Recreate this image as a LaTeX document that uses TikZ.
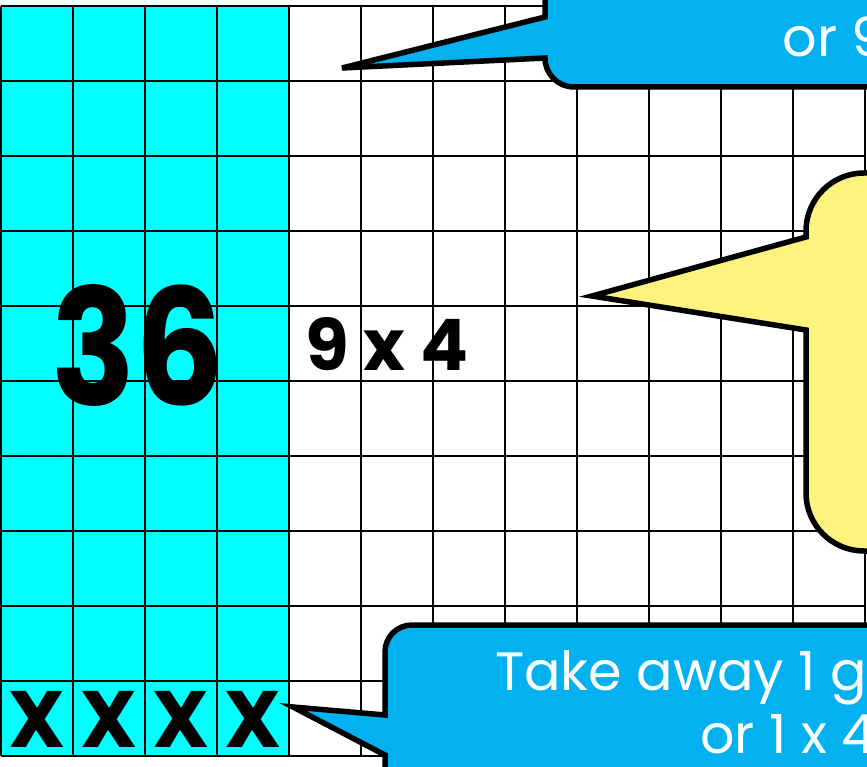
\documentclass[tikz,border=0pt]{standalone}
\usepackage{fontspec}
\setmainfont{Poppins}
\definecolor{gridcyan}{RGB}{0,255,255}
\definecolor{callblue}{RGB}{3,176,240}
\definecolor{callyellow}{RGB}{255,243,128}
\tikzset{
  gridline/.style={line width=2.2pt, black},
  callout/.style={line width=5.5pt, black, line join=miter},
  bigtxt/.style={inner sep=0pt, font=\fontsize{162}{162}\selectfont\bfseries},
  midtxt/.style={inner sep=0pt, font=\fontsize{71}{71}\selectfont\bfseries},
  xtxt/.style={inner sep=0pt, font=\fontsize{80}{80}\selectfont\bfseries},
  calltxt/.style={inner sep=0pt, text=white, font=\fontsize{54}{54}\selectfont}
}
\begin{document}
\begin{tikzpicture}[x=1pt,y=-1pt]
\useasboundingbox (0,0) rectangle (867,767);
\clip (0,0) rectangle (867,767);
\fill[white] (0,0) rectangle (867,767);
% cyan columns
\fill[gridcyan] (1,6) rectangle (289,756);
% grid
\foreach \i in {0,...,12} {
  \draw[gridline] (1+72*\i,6) -- (1+72*\i,756);
}
\foreach \j in {0,...,10} {
  \draw[gridline] (1,6+75*\j) -- (865,6+75*\j);
}
% texts on grid
\node[bigtxt, anchor=base] (n36) at (138,405) {\scalebox{0.86}[1]{36}};
\node[midtxt, anchor=base west] (n94) at (305,370) {9 x 4};
\foreach \k in {0,...,3} {
  \node[xtxt, anchor=base] (x\k) at (37+72*\k,747) {X};
}
% top callout
\filldraw[callout, fill=callblue]
  (545,-20) -- (545,17) -- (342,68) -- (545,58)
  .. controls (545,74) and (558,87) .. (574,87)
  -- (890,87) -- (890,-20) -- cycle;
\node[calltxt, anchor=base east] (topt) at (886,57) {or 9};
% yellow callout
\filldraw[callout, fill=callyellow]
  (890,173) -- (864,173)
  .. controls (832,173) and (806,199) .. (806,231)
  -- (806,237) -- (592,296) -- (806,330) -- (806,493)
  .. controls (806,525) and (832,551) .. (864,551)
  -- (890,551) -- cycle;
% bottom callout
\filldraw[callout, fill=callblue]
  (385,790) -- (385,755) -- (293,707) -- (385,715) -- (385,652)
  .. controls (385,637) and (397,625) .. (412,625)
  -- (890,625) -- (890,790) -- cycle;
\node[calltxt, anchor=base west] (bot1) at (495,690) {Take away 1 g};
\node[calltxt, anchor=base west] (bot2) at (700,753) {or 1 x 4};
\end{tikzpicture}
\end{document}
